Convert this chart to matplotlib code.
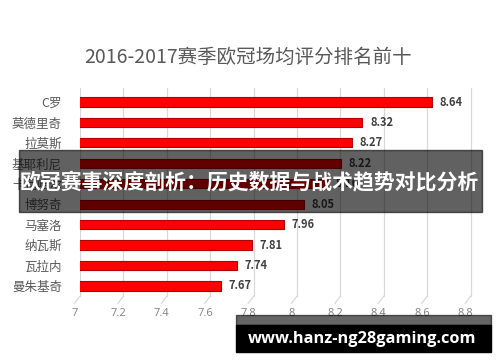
import matplotlib
matplotlib.use('Agg')
import matplotlib.pyplot as plt
import matplotlib.transforms as mtransforms
from matplotlib.patches import Rectangle

plt.rcParams['font.family'] = ['Noto Sans CJK SC', 'DejaVu Sans']

# data
players = ['C罗', '莫德里奇', '拉莫斯', '基耶利尼', '卡瓦哈尔',
           '博努奇', '马塞洛', '纳瓦斯', '瓦拉内', '曼朱基奇']
ratings = [8.64, 8.32, 8.27, 8.22, 8.16, 8.05, 7.96, 7.81, 7.74, 7.67]
xticks = [7, 7.2, 7.4, 7.6, 7.8, 8, 8.2, 8.4, 8.6, 8.8]
xtick_labels = ['7', '7.2', '7.4', '7.6', '7.8', '8', '8.2', '8.4', '8.6', '8.8']
title = '2016-2017赛季欧冠场均评分排名前十'
banner = '欧冠赛事深度剖析：历史数据与战术趋势对比分析'
site = 'www.hanz-ng28gaming.com'

fig = plt.figure(figsize=(5, 3.62), dpi=100)
ax = fig.add_axes([0.16, 0.1796, 0.8246, 0.5773])

# front plane of the 3d chart sits a few pixels left of the back wall
front = ax.transData + mtransforms.ScaledTranslation(-4 / 100, 0, fig.dpi_scale_trans)

rows = list(range(len(players)))
bars = ax.barh(rows, [r - 7 for r in ratings], left=7, height=0.45,
               color='#ff0000', edgecolor='#b00000', linewidth=0.8, zorder=3)
for b in bars:
    b.set_transform(front)

for y, r in zip(rows, ratings):
    ax.text(r + 0.035, y, '%.2f' % r, va='center', ha='left', transform=front,
            fontsize=8, fontweight='bold', color='#404040', zorder=4)

# back-wall gridlines with little floor slants
for x in xticks:
    ax.plot([x, x], [-0.685, 9.5], color='#d9d9d9', lw=0.9, zorder=1)
    ax.plot([x - 0.025, x], [9.85, 9.5], color='#d9d9d9', lw=0.9,
            zorder=1, clip_on=False)

ax.set_xlim(7, 8.9)
ax.set_ylim(9.54, -0.685)
ax.set_yticks(rows)
ax.set_yticklabels(players, fontsize=9, color='#595959')
ax.set_xticks(xticks)
ax.set_xticklabels(xtick_labels, fontsize=8, color='#808080',
                   family=['Open Sans', 'DejaVu Sans'])
ax.tick_params(axis='y', length=0, pad=13)
ax.tick_params(axis='x', length=0, pad=8)
offset = mtransforms.ScaledTranslation(-5 / 100, 0, fig.dpi_scale_trans)
for lab in ax.get_xticklabels():
    lab.set_transform(lab.get_transform() + offset)
for s in ax.spines.values():
    s.set_visible(False)

fig.text(248 / 500, 1 - 57 / 362, title, ha='center', va='center',
         fontsize=14, color='#595959')

# overlay banner
fig.patches.append(Rectangle((19 / 500, 1 - 212 / 362), 463 / 500, 62 / 362,
                             transform=fig.transFigure, color='black',
                             alpha=0.62, zorder=5))
fig.text(249 / 500, 1 - 183 / 362, banner, ha='center', va='center',
         fontsize=15, fontweight='bold', color='white', zorder=6)

# watermark
fig.patches.append(Rectangle((236 / 500, 1 - 325 / 362), 255 / 500, 10 / 362,
                             transform=fig.transFigure, color='black',
                             alpha=0.6, zorder=5))
fig.patches.append(Rectangle((236 / 500, 1 - 352 / 362), 255 / 500, 27 / 362,
                             transform=fig.transFigure, color='black',
                             zorder=5))
fig.text(362 / 500, 1 - 339 / 362, site, ha='center', va='center',
         fontsize=11.8, fontweight='bold', color='white', zorder=6,
         family=['Open Sans', 'DejaVu Sans'])

fig.savefig('out.png', dpi=100)
